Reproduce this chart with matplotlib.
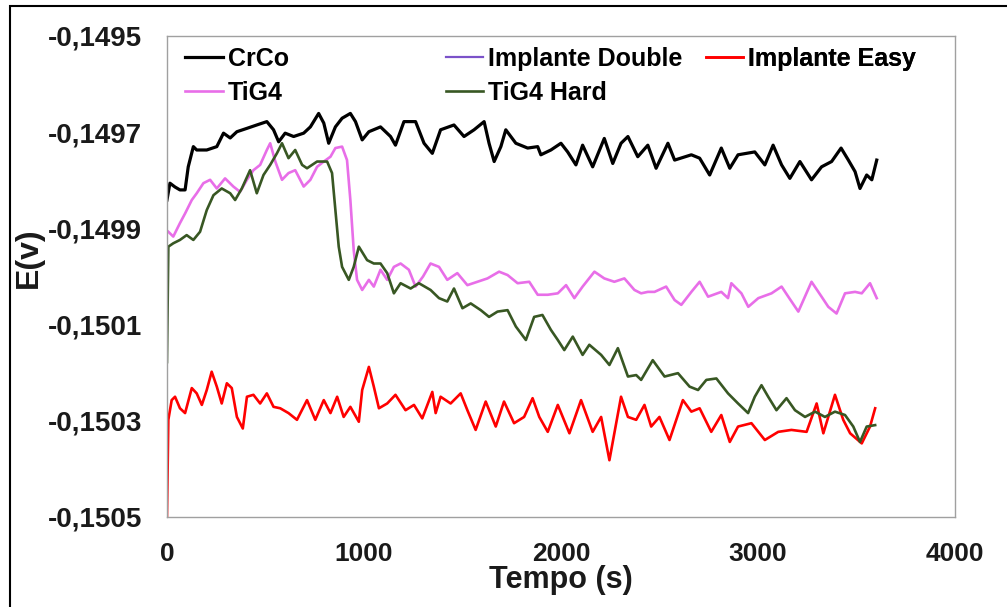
import matplotlib

matplotlib.use("Agg")
import matplotlib.pyplot as plt
from matplotlib.patches import Rectangle
from matplotlib.ticker import FixedLocator, FuncFormatter

plt.rcParams["font.family"] = ["Liberation Sans", "DejaVu Sans"]
plt.rcParams["font.weight"] = "bold"

x_ticks = [0, 1000, 2000, 3000, 4000]
y_ticks = [-0.1505, -0.1503, -0.1501, -0.1499, -0.1497, -0.1495]

# CrCo (black)
crco_t = [0, 15, 41, 66, 92, 108, 134, 151, 202, 253,
          287, 321, 355, 406, 456, 507, 541, 567, 600, 643,
          694, 728, 770, 796, 821, 855, 889, 931, 957, 991,
          1025, 1084, 1135, 1160, 1203, 1262, 1305, 1347, 1389, 1457,
          1508, 1559, 1610, 1635, 1661, 1695, 1720, 1771, 1831, 1882,
          1898, 1949, 2000, 2034, 2076, 2110, 2161, 2220, 2263, 2305,
          2340, 2390, 2441, 2483, 2543, 2577, 2662, 2704, 2755, 2814,
          2857, 2899, 2984, 3035, 3077, 3120, 3162, 3213, 3272, 3323,
          3374, 3422, 3459, 3493, 3518, 3552, 3578, 3603]
crco_e = [-0.149841, -0.149806, -0.149814, -0.149820, -0.149820, -0.149772, -0.149730, -0.149737, -0.149737, -0.149730,
          -0.149702, -0.149712, -0.149699, -0.149692, -0.149685, -0.149678, -0.149695, -0.149720, -0.149702, -0.149709,
          -0.149702, -0.149689, -0.149661, -0.149681, -0.149723, -0.149689, -0.149671, -0.149661, -0.149678, -0.149716,
          -0.149699, -0.149689, -0.149709, -0.149727, -0.149678, -0.149678, -0.149723, -0.149744, -0.149695, -0.149685,
          -0.149709, -0.149695, -0.149678, -0.149723, -0.149761, -0.149730, -0.149695, -0.149723, -0.149733, -0.149730,
          -0.149747, -0.149737, -0.149723, -0.149741, -0.149768, -0.149727, -0.149772, -0.149713, -0.149765, -0.149723,
          -0.149709, -0.149751, -0.149727, -0.149775, -0.149723, -0.149758, -0.149747, -0.149754, -0.149789, -0.149733,
          -0.149775, -0.149747, -0.149741, -0.149768, -0.149727, -0.149768, -0.149796, -0.149761, -0.149799, -0.149772,
          -0.149761, -0.149733, -0.149758, -0.149782, -0.149817, -0.149789, -0.149799, -0.149758]

# Implante Double (listed in the legend, no visible trace)
double_t = []
double_e = []

# Implante Easy (red)
easy_t = [0, 7, 24, 41, 66, 92, 126, 151, 177, 202,
          227, 253, 278, 304, 329, 355, 385, 406, 439, 473,
          507, 541, 575, 617, 660, 711, 753, 796, 830, 864,
          897, 931, 974, 991, 1025, 1050, 1076, 1118, 1160, 1211,
          1254, 1296, 1347, 1364, 1389, 1440, 1491, 1525, 1567, 1618,
          1669, 1711, 1762, 1813, 1856, 1890, 1933, 1984, 2043, 2102,
          2161, 2204, 2246, 2305, 2340, 2382, 2424, 2458, 2500, 2551,
          2619, 2662, 2704, 2763, 2814, 2857, 2899, 2967, 3035, 3103,
          3170, 3247, 3298, 3332, 3391, 3433, 3468, 3527, 3569, 3595]
easy_e = [-0.150500, -0.150298, -0.150257, -0.150250, -0.150274, -0.150284, -0.150232, -0.150243, -0.150267, -0.150236,
          -0.150198, -0.150229, -0.150264, -0.150222, -0.150232, -0.150292, -0.150316, -0.150250, -0.150246, -0.150264,
          -0.150243, -0.150271, -0.150274, -0.150284, -0.150298, -0.150257, -0.150298, -0.150257, -0.150284, -0.150250,
          -0.150292, -0.150271, -0.150302, -0.150236, -0.150188, -0.150229, -0.150274, -0.150264, -0.150246, -0.150278,
          -0.150267, -0.150295, -0.150240, -0.150284, -0.150250, -0.150264, -0.150243, -0.150278, -0.150319, -0.150260,
          -0.150312, -0.150260, -0.150305, -0.150292, -0.150253, -0.150292, -0.150323, -0.150267, -0.150326, -0.150257,
          -0.150323, -0.150292, -0.150382, -0.150250, -0.150292, -0.150298, -0.150267, -0.150312, -0.150292, -0.150340,
          -0.150257, -0.150281, -0.150274, -0.150323, -0.150288, -0.150344, -0.150312, -0.150305, -0.150340, -0.150323,
          -0.150319, -0.150323, -0.150264, -0.150326, -0.150246, -0.150298, -0.150326, -0.150347, -0.150312, -0.150274]

# TiG4 (violet)
tig4_t = [7, 32, 66, 92, 126, 151, 185, 219, 253, 295,
          337, 371, 406, 439, 473, 507, 524, 550, 584, 617,
          651, 694, 728, 762, 796, 830, 855, 889, 914, 931,
          948, 965, 991, 1025, 1050, 1084, 1118, 1152, 1186, 1228,
          1262, 1300, 1338, 1381, 1423, 1474, 1525, 1576, 1627, 1686,
          1729, 1780, 1839, 1882, 1933, 1984, 2026, 2068, 2110, 2170,
          2220, 2271, 2322, 2373, 2407, 2441, 2475, 2534, 2577, 2611,
          2662, 2704, 2747, 2814, 2848, 2865, 2916, 2951, 3002, 3069,
          3120, 3154, 3205, 3272, 3323, 3357, 3399, 3442, 3493, 3527,
          3569, 3603]
tig4_e = [-0.149907, -0.149917, -0.149889, -0.149869, -0.149841, -0.149827, -0.149806, -0.149799, -0.149817, -0.149796,
          -0.149813, -0.149824, -0.149799, -0.149779, -0.149768, -0.149737, -0.149723, -0.149761, -0.149799, -0.149785,
          -0.149779, -0.149813, -0.149799, -0.149772, -0.149761, -0.149751, -0.149733, -0.149730, -0.149758, -0.149841,
          -0.149945, -0.150007, -0.150028, -0.150007, -0.150021, -0.149986, -0.150007, -0.149980, -0.149973, -0.149986,
          -0.150021, -0.150000, -0.149973, -0.149980, -0.150007, -0.149993, -0.150018, -0.150011, -0.150004, -0.149990,
          -0.149997, -0.150014, -0.150011, -0.150038, -0.150038, -0.150035, -0.150018, -0.150045, -0.150021, -0.149990,
          -0.150004, -0.150011, -0.150004, -0.150028, -0.150035, -0.150032, -0.150032, -0.150021, -0.150049, -0.150059,
          -0.150032, -0.150011, -0.150042, -0.150032, -0.150045, -0.150014, -0.150035, -0.150063, -0.150045, -0.150035,
          -0.150021, -0.150042, -0.150073, -0.150011, -0.150042, -0.150063, -0.150077, -0.150035, -0.150032, -0.150035,
          -0.150014, -0.150045]

# TiG4 Hard (dark green)
hard_t = [0, 7, 32, 66, 100, 134, 168, 202, 236, 278,
          321, 346, 380, 422, 456, 490, 524, 558, 584, 617,
          651, 686, 711, 762, 813, 838, 855, 872, 889, 923,
          948, 974, 1016, 1050, 1084, 1118, 1152, 1186, 1237, 1279,
          1338, 1381, 1423, 1457, 1500, 1542, 1593, 1635, 1678, 1729,
          1771, 1822, 1864, 1906, 1949, 1984, 2017, 2060, 2110, 2144,
          2204, 2246, 2289, 2340, 2382, 2407, 2466, 2526, 2594, 2653,
          2696, 2738, 2789, 2848, 2899, 2950, 2984, 3018, 3052, 3094,
          3145, 3188, 3239, 3290, 3340, 3391, 3442, 3484, 3518, 3552,
          3595]
hard_e = [-0.150178, -0.149938, -0.149931, -0.149924, -0.149914, -0.149924, -0.149907, -0.149862, -0.149831, -0.149817,
          -0.149827, -0.149841, -0.149817, -0.149779, -0.149827, -0.149789, -0.149768, -0.149744, -0.149723, -0.149754,
          -0.149737, -0.149768, -0.149775, -0.149761, -0.149761, -0.149785, -0.149862, -0.149938, -0.149980, -0.150007,
          -0.149980, -0.149938, -0.149966, -0.149973, -0.149973, -0.149993, -0.150035, -0.150014, -0.150025, -0.150014,
          -0.150028, -0.150045, -0.150052, -0.150025, -0.150066, -0.150056, -0.150070, -0.150084, -0.150073, -0.150070,
          -0.150104, -0.150132, -0.150084, -0.150080, -0.150111, -0.150132, -0.150153, -0.150125, -0.150163, -0.150142,
          -0.150163, -0.150184, -0.150149, -0.150208, -0.150205, -0.150215, -0.150174, -0.150208, -0.150201, -0.150229,
          -0.150236, -0.150215, -0.150212, -0.150243, -0.150264, -0.150284, -0.150250, -0.150226, -0.150250, -0.150278,
          -0.150253, -0.150278, -0.150292, -0.150281, -0.150292, -0.150281, -0.150288, -0.150312, -0.150344, -0.150312,
          -0.150309]

fig = plt.figure(figsize=(10.07, 6.07), dpi=100)
ax = fig.add_axes([0.1658, 0.1483, 0.7825, 0.7924])

h_crco, = ax.plot(crco_t, crco_e, color="black", lw=2.3, label="CrCo")
h_double, = ax.plot(double_t, double_e, color="#7b52c9", lw=1.6, label="Implante Double")
h_easy, = ax.plot(easy_t, easy_e, color="#ff0000", lw=1.9, label="Implante Easy")
h_tig4, = ax.plot(tig4_t, tig4_e, color="#e86ee8", lw=1.9, label="TiG4")
h_hard, = ax.plot(hard_t, hard_e, color="#385723", lw=1.9, label="TiG4 Hard")

ax.set_xlim(0, 4000)
ax.set_ylim(-0.1505, -0.1495)
ax.xaxis.set_major_locator(FixedLocator(x_ticks))
ax.yaxis.set_major_locator(FixedLocator(y_ticks))
ax.yaxis.set_major_formatter(FuncFormatter(lambda v, _: f"{v:.4f}".replace(".", ",")))
ax.tick_params(axis="both", length=0, colors="#1a1a1a")
ax.tick_params(axis="y", pad=18, labelsize=20)
ax.tick_params(axis="x", pad=18, labelsize=19)
for s in ax.spines.values():
    s.set_color("#a0a0a0")
    s.set_linewidth(1.0)

ax.set_xlabel("Tempo (s)", fontsize=22, fontweight="bold", color="#1a1a1a", labelpad=0)
ax.xaxis.set_label_coords(0.5, -0.10)
ax.set_ylabel("E(v)", fontsize=23, fontweight="bold", color="#1a1a1a")
ax.yaxis.set_label_coords(-0.156, 0.54)

# Excel-style legend: three equal-width columns at the top of the plot area
legend_cols = [([h_crco, h_tig4], 0.023), ([h_double, h_hard], 0.354), ([h_easy], 0.684)]
for hs, x0 in legend_cols:
    leg = ax.legend(hs, [h.get_label() for h in hs], loc="upper left",
                    bbox_to_anchor=(x0, 0.977), frameon=False, fontsize=18,
                    handlelength=1.5, handletextpad=0.2, labelspacing=0.4,
                    borderpad=0, borderaxespad=0)
    ax.add_artist(leg)

fig.patches.append(Rectangle((0.0099, -0.05), 1.2, 1.04, transform=fig.transFigure,
                             fill=False, edgecolor="black", lw=1.5))

fig.savefig("out.png", dpi=100)
